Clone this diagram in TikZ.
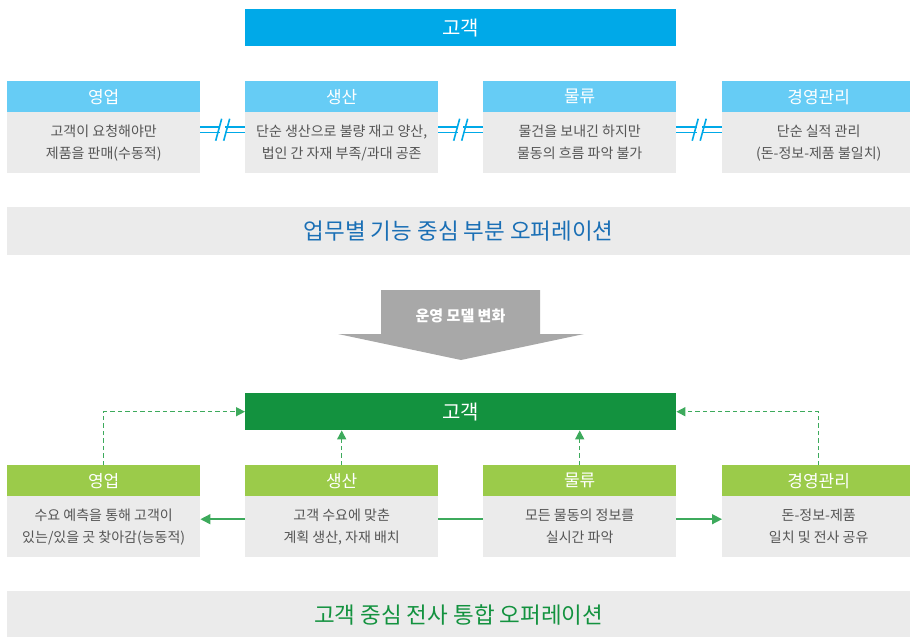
\documentclass[tikz,border=0pt]{standalone}
\usepackage{fontspec}
\setmainfont{Noto Sans CJK KR}
\usetikzlibrary{arrows.meta,calc}
\definecolor{cyanbar}{HTML}{00A9E8}
\definecolor{lblue}{HTML}{66CCF5}
\definecolor{boxgray}{HTML}{EBEBEB}
\definecolor{txtgray}{HTML}{555555}
\definecolor{bluetxt}{HTML}{1A6FB5}
\definecolor{dgreen}{HTML}{13923F}
\definecolor{lgreen}{HTML}{9BCB4A}
\definecolor{arrgray}{HTML}{A8A8A8}
\definecolor{conngreen}{HTML}{3DAA5C}
\tikzset{
  bar/.style={minimum width=431pt,minimum height=37pt,inner sep=0pt,text=white,font=\fontsize{20}{24}\selectfont,anchor=north west},
  hdr/.style={minimum width=193pt,minimum height=31pt,inner sep=0pt,text=white,font=\fontsize{17}{20}\selectfont,anchor=north west},
  body/.style={fill=boxgray,minimum width=193pt,minimum height=61pt,inner sep=0pt,text=txtgray,align=center,font=\fontsize{14}{22}\selectfont,anchor=north west},
  banner/.style={fill=boxgray,minimum width=903pt,minimum height=48pt,inner sep=0pt,font=\fontsize{22.5}{26}\selectfont,anchor=north west},
  dconn/.style={conngreen,line width=1.5pt,dash pattern=on 4.5pt off 3pt,-{Triangle[length=9pt,width=9pt]}},
  sconn/.style={conngreen,line width=1.5pt},
  sep/.style={cyanbar,line width=1.6pt}
}
\begin{document}
\begin{tikzpicture}[x=1pt,y=-1pt]
\useasboundingbox (0,0) rectangle (910,637);
% top part
\node[bar,fill=cyanbar] (c1) at (245,9) {고객};
\foreach \x/\n/\h/\b in {7/a/영업/{고객이 요청해야만\\제품을 판매(수동적)},245/b/생산/{단순 생산으로 불량 재고 양산,\\법인 간 자재 부족/과대 공존},483/c/물류/{물건을 보내긴 하지만\\물동의 흐름 파악 불가},722/d/경영관리/{단순 실적 관리\\(돈-정보-제품 불일치)}}{
  \node[hdr,fill=lblue] (h\n) at (\x,81) {\h};
  \node[body] (b\n) at (\x,112) {\b};
}
% separators
\foreach \l/\r in {a/b,b/c,c/d}{
  \coordinate (m) at ($(b\l.east)!0.5!(b\r.west)+(0,-13)$);
  \draw[sep] ([yshift=10.2pt]b\l.east) -- ([yshift=10.2pt]b\r.west);
  \draw[sep] ([yshift=15.8pt]b\l.east) -- ([yshift=15.8pt]b\r.west);
  \fill[white] ($(m)+(-2.5,-5)$) rectangle ($(m)+(2.5,5)$);
  \draw[sep] ($(m)+(-7,11)$) -- ($(m)+(-1,-11)$);
  \draw[sep] ($(m)+(1,11)$) -- ($(m)+(7,-11)$);
}
\node[banner,text=bluetxt] (ban1) at (7,207) {업무별 기능 중심 부분 오퍼레이션};
% big arrow
\fill[arrgray] (381,290) -- (540,290) -- (540,334) -- (584,334) -- (461,360) -- (338,334) -- (381,334) -- cycle;
\node[text=white,font=\fontsize{15}{18}\selectfont\bfseries] (arr) at (460.5,316) {운영 모델 변화};
% bottom part
\node[bar,fill=dgreen] (c2) at (245,393) {고객};
\foreach \x/\n/\h/\b in {7/a/영업/{수요 예측을 통해 고객이\\있는/있을 곳 찾아감(능동적)},245/b/생산/{고객 수요에 맞춘\\계획 생산, 자재 배치},483/c/물류/{모든 물동의 정보를\\실시간 파악},722/d/경영관리/{돈-정보-제품\\일치 및 전사 공유}}{
  \node[hdr,fill=lgreen] (g\n) at (\x,465) {\h};
  \node[body] (k\n) at (\x,496) {\b};
}
\draw[dconn] (ga.north) |- (c2.west);
\draw[dconn] (gd.north) |- (c2.east);
\draw[dconn] (gb.north) -- (gb.north |- c2.south);
\draw[dconn] (gc.north) -- (gc.north |- c2.south);
\draw[sconn,-{Triangle[length=10pt,width=10pt]}] ([yshift=7.5pt]kb.west) -- ([yshift=7.5pt]ka.east);
\draw[sconn] ([yshift=7.5pt]kb.east) -- ([yshift=7.5pt]kc.west);
\draw[sconn,-{Triangle[length=10pt,width=10pt]}] ([yshift=7.5pt]kc.east) -- ([yshift=7.5pt]kd.west);
\node[banner,text=dgreen] (ban2) at (7,591) {고객 중심 전사 통합 오퍼레이션};
\end{tikzpicture}
\end{document}
